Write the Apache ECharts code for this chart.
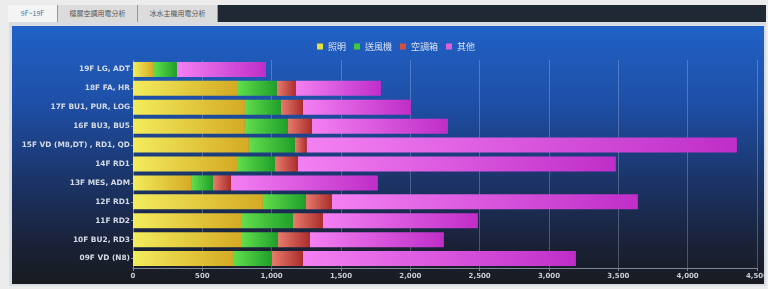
<!DOCTYPE html>
<html>
<head>
<meta charset="utf-8">
<script src="https://cdn.jsdelivr.net/npm/echarts@6/dist/echarts.min.js"></script>
<style>
  html, body { margin: 0; padding: 0; width: 768px; height: 289px; background: #ececec; overflow: hidden; }
  #tabs { position: absolute; left: 8px; top: 5px; width: 758px; height: 17px; background: #1f2833; }
  .tab { position: absolute; top: 0; height: 17px; line-height: 17px; font-size: 7px; text-align: center;
         font-family: "Noto Sans CJK TC", "DejaVu Sans", sans-serif; color: #555; background: #dcdcdc;
         border-right: 1px solid #999; box-sizing: border-box; }
  #panel { position: absolute; left: 9px; top: 22px; width: 757px; height: 264px; background: #d8dde4; }
  #main { position: absolute; left: 12px; top: 26px; width: 752px; height: 258px;
          background: linear-gradient(to bottom, #2161c6 0%, #1e4fa6 30%, #1b3468 60%, #1a2136 85%, #181b21 100%); }
</style>
</head>
<body>
<div id="tabs">
  <div class="tab" style="left:0;width:50px;background:#f4f4f4;color:#4a6f9a;">9F~19F</div>
  <div class="tab" style="left:50px;width:80px;">樓層空調用電分析</div>
  <div class="tab" style="left:130px;width:80px;">冰水主機用電分析</div>
</div>
<div id="panel"></div>
<div id="main"></div>
<script>
var floors = ['19F LG, ADT', '18F FA, HR', '17F BU1, PUR, LOG', '16F BU3, BU5',
  '15F VD (M8,DT) , RD1, QD', '14F RD1', '13F MES, ADM', '12F RD1', '11F RD2',
  '10F BU2, RD3', '09F VD (N8)'];
var lighting = [151, 750, 807, 807, 836, 750, 425, 937, 786, 786, 721];
var fans     = [166, 288, 260, 311, 332, 274, 152, 310, 368, 259, 281];
var ahu      = [0, 137, 159, 173, 86, 166, 130, 188, 216, 231, 224];
var others   = [642, 613, 778, 980, 3101, 2292, 1059, 2206, 1117, 966, 1968];
var seriesNames = ['照明', '送風機', '空調箱', '其他'];
var axisTicks = [0, 500, 1000, 1500, 2000, 2500, 3000, 3500, 4000, 4500];

var myChart = echarts.init(document.getElementById('main'));

function grad(c1, c2) {
    return new echarts.graphic.LinearGradient(0, 0, 1, 0, [
        { offset: 0, color: c1 },
        { offset: 1, color: c2 }
    ]);
}

var colors = [
    grad('#f3ec5c', '#d4aa24'),
    grad('#62de4c', '#1f9f2a'),
    grad('#e77c6c', '#aa2c2c'),
    grad('#f380f2', '#bf2ec8')
];
var legendColors = ['#e6de3a', '#3cc83a', '#d4503c', '#e060e0'];
var values = [lighting, fans, ahu, others];

var series = seriesNames.map(function (name, i) {
    return {
        name: name,
        type: 'bar',
        stack: 'total',
        barWidth: 15,
        data: values[i],
        itemStyle: { color: colors[i] }
    };
});

option = {
    animation: false,
    backgroundColor: 'transparent',
    legend: {
        left: 300,
        top: 11,
        itemWidth: 6,
        itemHeight: 6,
        itemGap: 8,
        icon: 'rect',
        textStyle: { color: '#d8e2f2', fontSize: 9, fontFamily: 'Noto Sans CJK TC' },
        data: seriesNames.map(function (n, i) {
            return { name: n, itemStyle: { color: legendColors[i] } };
        })
    },
    grid: {
        left: 121,
        right: 7,
        top: 34,
        bottom: 16,
        containLabel: false,
        outerBoundsMode: 'none'
    },
    xAxis: {
        type: 'value',
        min: axisTicks[0],
        max: axisTicks[axisTicks.length - 1],
        interval: 500,
        axisLine: { show: true, lineStyle: { color: '#7d8796' } },
        axisTick: { show: true, length: 3, lineStyle: { color: '#7d8796' } },
        axisLabel: {
            color: '#c8ccd4', fontSize: 7, fontWeight: 'bold', margin: 5,
            fontFamily: 'DejaVu Sans',
            formatter: function (v) { return v.toLocaleString('en-US'); }
        },
        splitLine: { show: true, lineStyle: { color: 'rgba(200,210,230,0.3)', width: 1 } }
    },
    yAxis: {
        type: 'category',
        inverse: true,
        data: floors,
        axisLine: { show: true, lineStyle: { color: '#7d8796' } },
        axisTick: { show: true, length: 2, alignWithLabel: true, lineStyle: { color: '#7d8796' } },
        axisLabel: {
            color: '#d4dae4', fontSize: 7.4, fontWeight: 'bold', margin: 3,
            fontFamily: 'DejaVu Sans'
        }
    },
    series: series
};
myChart.setOption(option);
</script>
</body>
</html>
